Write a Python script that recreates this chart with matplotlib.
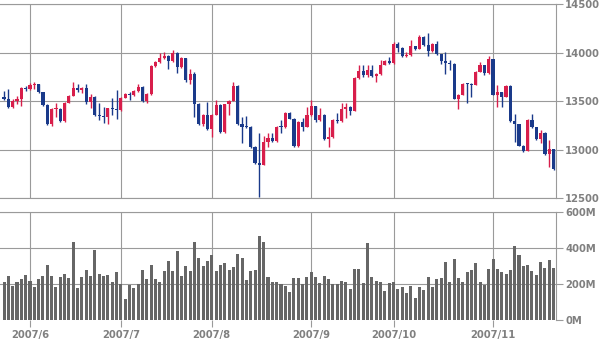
import matplotlib
matplotlib.use("Agg")
import matplotlib.pyplot as plt
import pandas as pd
import numpy as np

# ---- data (DJIA-like daily candles) ----
holidays = ["2007-05-28", "2007-07-04", "2007-09-03"]
dates = pd.bdate_range("2007-05-23", "2007-11-21", freq="C", holidays=holidays)

opens = [13540, 13521, 13441, 13507, 13521, 13633, 13627, 13668, 13676, 13595,
         13465, 13266, 13420, 13425, 13295, 13482, 13553, 13639, 13612, 13636,
         13490, 13546, 13360, 13352, 13337, 13427, 13422, 13409, 13535, 13577,
         13565, 13611, 13649, 13501, 13577, 13861, 13907, 13951, 13971, 13918,
         14000, 13851, 13943, 13716, 13785, 13473, 13265, 13358, 13212, 13362,
         13463, 13182, 13468, 13504, 13658, 13270, 13240, 13236, 13029, 12859,
         12846, 13079, 13121, 13090, 13236, 13236, 13379, 13322, 13041, 13289,
         13238, 13358, 13449, 13306, 13363, 13113, 13127, 13308, 13292, 13424,
         13442, 13403, 13739, 13815, 13766, 13820, 13759, 13779, 13878, 13913,
         13896, 14088, 14047, 13968, 13974, 14066, 14044, 14165, 14079, 14015,
         14093, 13985, 13913, 13893, 13889, 13523, 13567, 13677, 13676, 13671,
         13807, 13870, 13792, 13931, 13567, 13596, 13543, 13661, 13300, 13267,
         13043, 12988, 13307, 13231, 13110, 13177, 12958, 13010]

highs = [13610, 13630, 13520, 13555, 13645, 13660, 13690, 13700, 13680, 13600,
         13470, 13435, 13479, 13430, 13490, 13560, 13700, 13679, 13650, 13679,
         13572, 13555, 13486, 13445, 13435, 13531, 13617, 13545, 13590, 13600,
         13620, 13680, 13660, 13590, 13875, 13920, 14002, 14012, 13975, 14025,
         14005, 13960, 13950, 13830, 13800, 13480, 13370, 13497, 13370, 13514,
         13470, 13475, 13515, 13703, 13665, 13342, 13349, 13245, 13040, 13170,
         13140, 13170, 13177, 13250, 13308, 13385, 13385, 13330, 13300, 13325,
         13445, 13514, 13455, 13428, 13370, 13239, 13315, 13376, 13479, 13479,
         13450, 13750, 13875, 13875, 13875, 13875, 13790, 13926, 13925, 13954,
         14115, 14115, 14055, 14010, 14132, 14070, 14187, 14174, 14201, 14100,
         14125, 13985, 14012, 13926, 13895, 13580, 13692, 13692, 13692, 13815,
         13909, 13875, 13967, 13935, 13668, 13600, 13670, 13665, 13366, 13270,
         13050, 13320, 13366, 13240, 13200, 13180, 13101, 13010]

lows = [13510, 13428, 13430, 13470, 13452, 13610, 13620, 13630, 13585, 13455,
        13260, 13246, 13342, 13290, 13290, 13478, 13550, 13600, 13590, 13475,
        13435, 13350, 13310, 13273, 13266, 13359, 13314, 13405, 13530, 13514,
        13550, 13600, 13495, 13486, 13570, 13850, 13900, 13940, 13830, 13910,
        13796, 13845, 13703, 13679, 13342, 13260, 13250, 13204, 13136, 13355,
        13175, 13170, 13359, 13500, 13260, 13067, 13222, 13020, 12850, 12517,
        12840, 13033, 13080, 13085, 13170, 13225, 13315, 13030, 13030, 13198,
        13230, 13350, 13290, 13300, 13100, 13033, 13120, 13280, 13285, 13325,
        13359, 13395, 13730, 13750, 13755, 13750, 13703, 13770, 13870, 13880,
        13880, 14012, 13954, 13960, 13970, 14029, 14040, 14075, 13967, 14010,
        13975, 13881, 13782, 13823, 13520, 13418, 13565, 13479, 13548, 13665,
        13805, 13771, 13780, 13560, 13445, 13445, 13540, 13290, 13084, 13035,
        12980, 12985, 13225, 13100, 13070, 12950, 12826, 12790]

closes = [13521, 13441, 13507, 13521, 13633, 13627, 13668, 13676, 13595, 13465,
          13266, 13424, 13425, 13295, 13482, 13553, 13639, 13612, 13636, 13490,
          13546, 13360, 13352, 13337, 13427, 13422, 13409, 13535, 13577, 13565,
          13611, 13649, 13501, 13577, 13861, 13907, 13951, 13971, 13918, 14000,
          13851, 13943, 13716, 13785, 13473, 13265, 13358, 13212, 13362, 13463,
          13182, 13468, 13504, 13658, 13270, 13240, 13236, 13029, 12861, 12846,
          13079, 13121, 13090, 13236, 13235, 13379, 13322, 13041, 13289, 13238,
          13358, 13449, 13306, 13363, 13113, 13127, 13308, 13292, 13424, 13442,
          13403, 13739, 13815, 13766, 13820, 13759, 13779, 13878, 13913, 13896,
          14088, 14047, 13968, 13974, 14066, 14044, 14165, 14079, 14015, 14093,
          13985, 13913, 13893, 13889, 13523, 13567, 13677, 13676, 13671, 13807,
          13870, 13792, 13931, 13567, 13596, 13543, 13661, 13300, 13267, 13043,
          12988, 13307, 13231, 13110, 13177, 12958, 13010, 12799]

volumes_m = [209, 244, 189, 211, 228, 250, 217, 183, 228, 244,
             306, 244, 183, 239, 256, 233, 433, 178, 239, 278,
             244, 389, 256, 244, 250, 211, 267, 200, 117, 194,
             178, 200, 278, 228, 306, 228, 211, 272, 328, 272,
             383, 244, 300, 272, 433, 344, 300, 328, 361, 272,
             306, 317, 278, 294, 367, 344, 222, 272, 278, 467,
             433, 239, 211, 211, 200, 189, 156, 233, 233, 200,
             239, 267, 239, 206, 244, 228, 200, 200, 217, 211,
             172, 283, 283, 206, 428, 239, 217, 211, 161, 206,
             211, 172, 183, 150, 189, 122, 183, 167, 239, 183,
             228, 233, 322, 211, 339, 233, 211, 267, 278, 317,
             211, 194, 283, 339, 283, 267, 256, 278, 411, 361,
             300, 306, 272, 250, 322, 289, 333, 289]

price_ticks = [12500, 13000, 13500, 14000, 14500]
volume_ticks = [0, 200, 400, 600]
volume_tick_labels = ["0M", "200M", "400M", "600M"]

# ---- style ----
UP = "#d81e4b"
DOWN = "#1a3a8a"
VOLC = "#666666"
GRID = "#9a9a9a"
TXT = "#808080"
FONT = dict(family="DejaVu Sans", weight="bold", size=7.2)

n = len(closes)
idx = np.arange(n)
o = np.array(opens, float)
h = np.array(highs, float)
l = np.array(lows, float)
c = np.array(closes, float)
up = c >= o
colors = np.where(up, UP, DOWN)

# month boundaries
months = dates.month
month_pos = [i for i in range(n) if i == 0 or months[i] != months[i - 1]]
month_pos = [p for p in month_pos if dates[p].day <= 7]
month_labels = [f"{dates[p].year}/{dates[p].month}" for p in month_pos]

fig = plt.figure(figsize=(6, 3.4), dpi=100)
W, H = 600, 340
left_px, right_px = 0, 556
xl = (-0.93, n - 0.45)

def axes_px(top, bottom):
    return [left_px / W, 1 - bottom / H, (right_px - left_px) / W, (bottom - top) / H]

ax1 = fig.add_axes(axes_px(4.3, 198.3))
ax2 = fig.add_axes(axes_px(211.7, 320.3))

for ax in (ax1, ax2):
    ax.set_xlim(*xl)
    ax.set_facecolor("white")
    for s in ("left",):
        ax.spines[s].set_visible(False)
    for s in ("top", "right", "bottom"):
        ax.spines[s].set_color(GRID)
        ax.spines[s].set_linewidth(0.8)
    for p in month_pos:
        ax.axvline(p, color=GRID, lw=0.8, zorder=0)
    ax.yaxis.tick_right()
    ax.tick_params(axis="y", which="both", length=5, width=0.8, color=GRID,
                   pad=1.5, labelcolor=TXT, left=False)
ax2.spines["bottom"].set_visible(False)

# price panel
ax1.set_ylim(12500, 14500)
ax1.set_yticks(price_ticks)
ax1.set_yticklabels([str(t) for t in price_ticks], fontdict=FONT)
for t in price_ticks:
    ax1.axhline(t, color=GRID, lw=0.8, zorder=0)
ax1.set_xticks([])

ax1.vlines(idx, l, h, colors=colors, lw=1.0, zorder=2)
body_bottom = np.minimum(o, c)
body_h = np.maximum(np.abs(c - o), 8)
ax1.bar(idx, body_h, bottom=body_bottom, width=0.72, color=colors,
        linewidth=0, zorder=3)

# volume panel
ax2.set_ylim(0, 600)
ax2.set_yticks(volume_ticks)
ax2.set_yticklabels(volume_tick_labels, fontdict=FONT)
for t in volume_ticks[1:]:
    ax2.axhline(t, color=GRID, lw=0.8, zorder=0)
ax2.bar(idx, volumes_m, width=0.7, color=VOLC, linewidth=0, zorder=2)
ax2.set_xticks(month_pos)
ax2.set_xticklabels(month_labels, fontdict=FONT)
ax2.tick_params(axis="x", length=5, width=0.8, color=GRID, pad=2,
                labelcolor=TXT)

fig.savefig("out.png", dpi=100, facecolor="white")
